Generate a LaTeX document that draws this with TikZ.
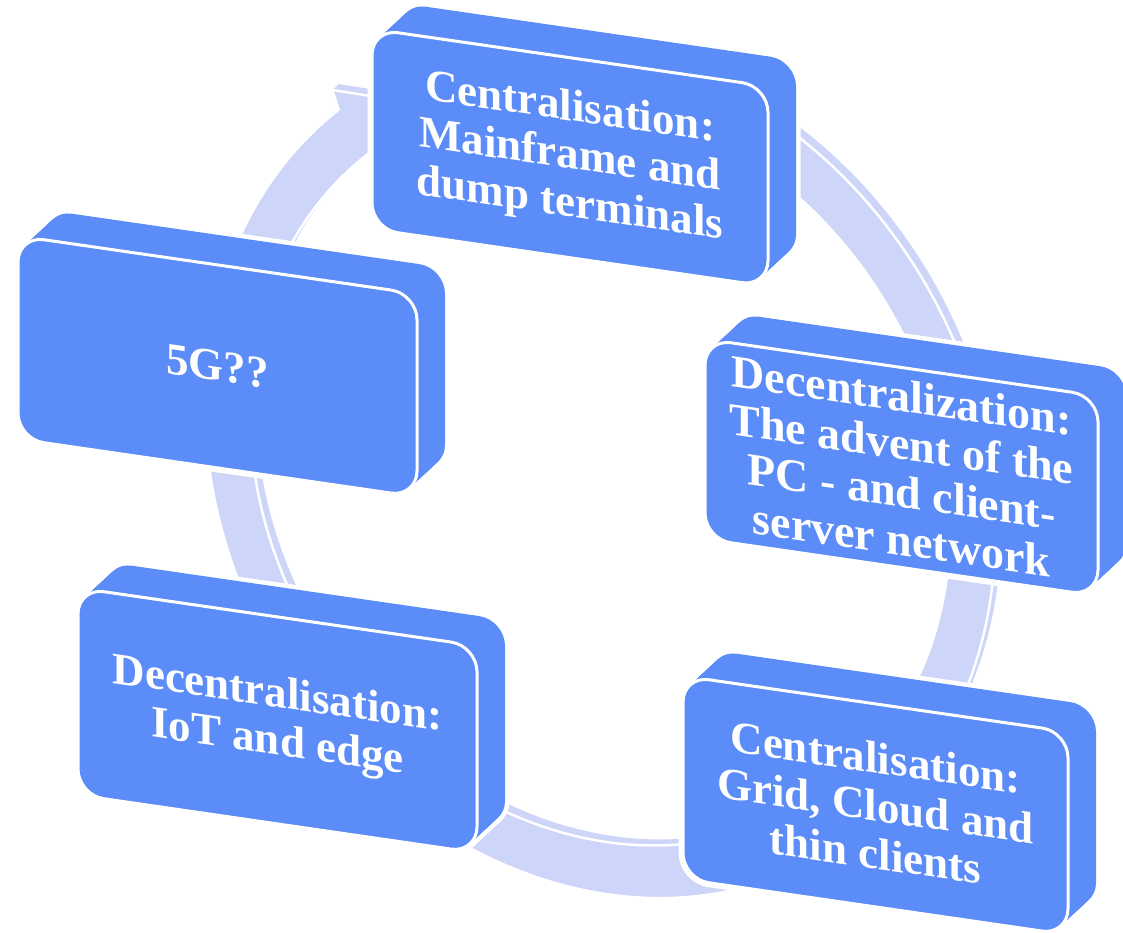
\documentclass[tikz,border=0pt]{standalone}
\usepackage{fontspec}
\setmainfont{Liberation Serif}
\definecolor{slabblue}{RGB}{91,140,248}
\definecolor{bandlav}{RGB}{205,213,248}

% closed outline of the circular arrow, in the ring's own (sheared) frame
\newcommand\cycleband{%
  (70:395 and 423) arc[start angle=70, end angle=-228.6, x radius=395, y radius=423]
  -- ({1.044*395*cos(-229.5)}, {1.044*423*sin(-229.5)})
  -- ({0.943*395*cos(-237.5)}, {0.943*423*sin(-237.5)})
  -- ({0.83*395*cos(-229.5)}, {0.83*423*sin(-229.5)})
  -- (-228.6:350 and 371)
  arc[start angle=-228.6, end angle=70, x radius=350, y radius=371]
  -- cycle}

% one extruded, sheared slab: #1,#2 centre, #3 width, #4 height, #5 name, #6 font size, #7 text
\newcommand\drawslab[7]{%
  \foreach \s in {0,0.05,...,1.001}{%
    \begin{scope}[shift={(28*\s,26*\s)}]
      \begin{scope}[cm={1,-0.145,0,1,(#1,#2)}]
        \path[draw=white, line width=9pt, fill=white, rounded corners=26pt]
          (-#3/2,-#4/2) rectangle (#3/2,#4/2);
      \end{scope}
    \end{scope}}%
  \foreach \s in {0,0.05,...,1.001}{%
    \begin{scope}[shift={(28*\s,26*\s)}]
      \begin{scope}[cm={1,-0.145,0,1,(#1,#2)}]
        \path[fill=slabblue, rounded corners=26pt]
          (-#3/2,-#4/2) rectangle (#3/2,#4/2);
      \end{scope}
    \end{scope}}%
  \begin{scope}[cm={1,-0.145,0,1,(#1,#2)}]
    \path[fill=slabblue, draw=white, line width=3pt, rounded corners=26pt]
      (-#3/2,-#4/2) rectangle (#3/2,#4/2);
    \node[slabtext, transform shape, font=\bfseries\fontsize{#6}{48}\selectfont] (#5) at (0,0) {#7};
  \end{scope}}

\begin{document}
\begin{tikzpicture}[x=1pt, y=1pt,
  slabtext/.style={text=white, align=center, inner sep=0pt}]
\useasboundingbox (0,0) rectangle (1123,932);

% the circular arrow: side strip first, then its face
\foreach \s in {0,0.1,...,1.001}{%
  \begin{scope}[shift={(6*\s,6*\s)}]
    \begin{scope}[cm={1,-0.165,0,1,(600,462)}]
      \fill[bandlav] \cycleband;
    \end{scope}
  \end{scope}}
\begin{scope}[cm={1,-0.165,0,1,(600,462)}]
  \path[fill=bandlav, draw=white, line width=2.5pt, line join=round] \cycleband;
\end{scope}

% the five stages
\drawslab{570}{774.3}{396}{200}{mainframe}{45}{Centralisation:\\Mainframe and\\dump terminals}
\drawslab{901.5}{464.5}{393}{200}{pc}{46}{Decentralization:\\The advent of the\\PC - and client-\\server network}
\drawslab{875.5}{126.6}{385}{203}{cloud}{45}{Centralisation:\\Grid, Cloud and\\thin clients}
\drawslab{277.5}{211.6}{399}{207}{iot}{45}{Decentralisation:\\IoT and edge}
\drawslab{217.5}{565.6}{399}{203}{fiveg}{45}{5G??}
\end{tikzpicture}
\end{document}
